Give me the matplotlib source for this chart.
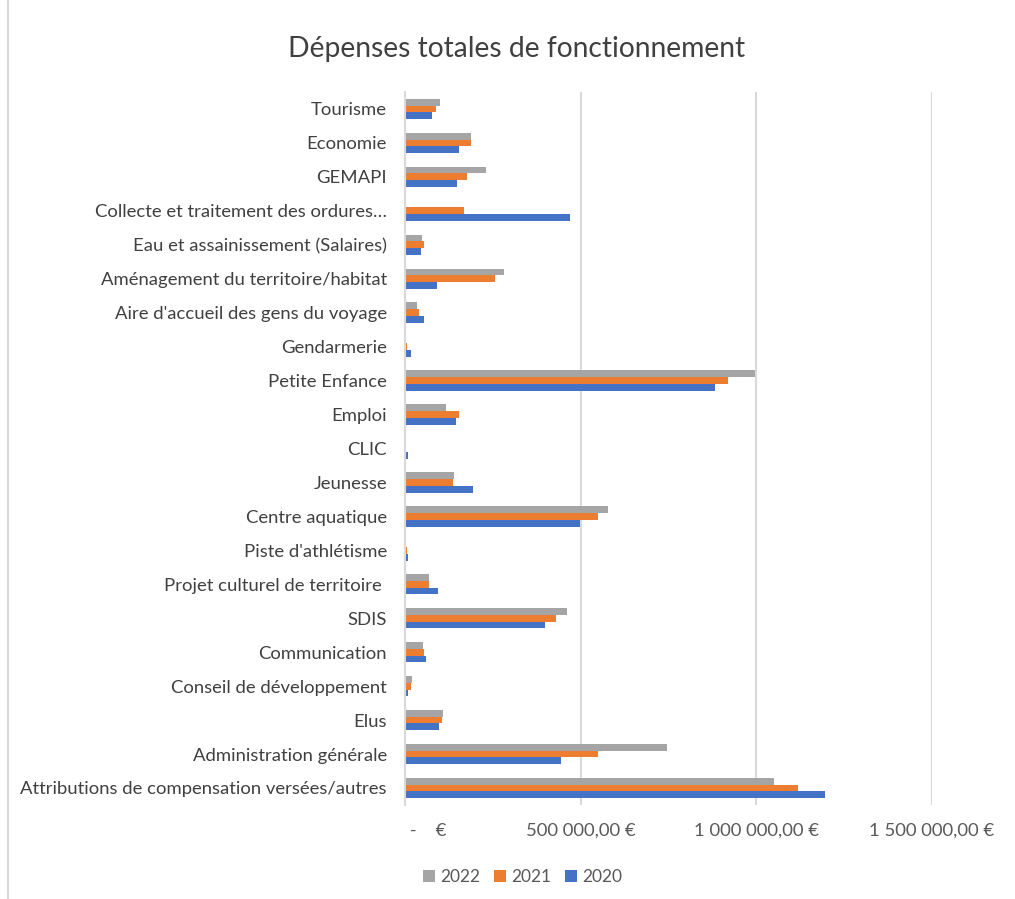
import matplotlib
matplotlib.use("Agg")
import matplotlib.pyplot as plt
import numpy as np
from matplotlib.patches import Rectangle

plt.rcParams['font.family'] = ['Lato', 'DejaVu Sans']

# categories listed bottom -> top
categories = [
    "Attributions de compensation versées/autres",
    "Administration générale",
    "Elus",
    "Conseil de développement",
    "Communication",
    "SDIS",
    "Projet culturel de territoire ",
    "Piste d'athlétisme",
    "Centre aquatique",
    "Jeunesse",
    "CLIC",
    "Emploi",
    "Petite Enfance",
    "Gendarmerie",
    "Aire d'accueil des gens du voyage",
    "Aménagement du territoire/habitat",
    "Eau et assainissement (Salaires)",
    "Collecte et traitement des ordures…",
    "GEMAPI",
    "Economie",
    "Tourisme",
]

v2022 = [1050000, 745000, 109000, 21000, 51000, 462000, 67000, 4000, 577000, 139000,
         0, 118000, 996000, 4000, 35000, 282000, 49000, 0, 231000, 188000, 101000]
v2021 = [1120000, 550000, 105000, 16000, 55000, 429000, 67000, 7000, 550000, 137000,
         0, 155000, 920000, 7000, 40000, 257000, 55000, 167000, 177000, 188000, 88000]
v2020 = [1195000, 444000, 97000, 9000, 61000, 399000, 94000, 10000, 499000, 193000,
         9000, 145000, 884000, 17000, 53000, 91000, 46000, 471000, 149000, 155000, 76000]

xticks = [0, 500000, 1000000, 1500000]
xticklabels = [" -    €", "500 000,00 €", "1 000 000,00 €", "1 500 000,00 €"]

fig = plt.figure(figsize=(10.15, 8.99), dpi=100)
ax = fig.add_axes([0.399, 0.1046, 0.519, 0.7931])

y = np.arange(len(categories))
h = 0.2
ax.barh(y + h, v2022, height=h, color="#A5A5A5", label="2022")
ax.barh(y, v2021, height=h, color="#ED7D31", label="2021")
ax.barh(y - h, v2020, height=h, color="#4472C4", label="2020")

ax.set_ylim(-0.5, len(categories) - 0.5)
ax.set_xlim(0, 1500000)
ax.set_yticks(y)
ax.set_yticklabels(categories, fontsize=13.3, color="#404040")
ax.set_xticks(xticks)
ax.set_xticklabels(xticklabels, fontsize=13.3, color="#595959")
ax.get_xticklabels()[0].set_horizontalalignment("left")
ax.tick_params(axis="y", length=0, pad=13)
ax.tick_params(axis="x", length=0, pad=13)

ax.grid(axis="x", color="#D9D9D9", linewidth=1.5)
ax.set_axisbelow(True)
for s in ["top", "right", "bottom"]:
    ax.spines[s].set_visible(False)
ax.spines["left"].set_color("#D9D9D9")
ax.spines["left"].set_linewidth(1.5)

fig.text(0.509, 0.946, "Dépenses totales de fonctionnement", ha="center", va="center",
         fontsize=20.3, color="#404040")

handles, labels = ax.get_legend_handles_labels()
fig.legend(handles, labels, loc="center", bbox_to_anchor=(0.515, 0.024), ncol=3,
           frameon=False, fontsize=12.5, handlelength=0.7, handleheight=0.7,
           handletextpad=0.3, columnspacing=0.8, labelcolor="#595959")

fig.patches.append(Rectangle((0.008, -0.01), 1.1, 1.1, transform=fig.transFigure,
                             fill=False, edgecolor="#D9D9D9", linewidth=1.5))

fig.savefig("out.png", dpi=100)
